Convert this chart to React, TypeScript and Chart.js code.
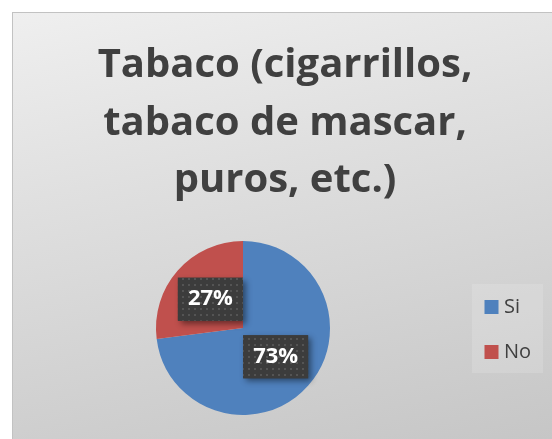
import { useEffect, useRef } from "react";
import { Chart, registerables } from "chart.js";

Chart.register(...registerables);

const titleLines = ["Tabaco (cigarrillos,", "tabaco de mascar,", "puros, etc.)"];
const categories = ["Si", "No"];
const shares = [73, 27];
const sliceColors = ["#4F81BD", "#C0504D"];

const FONT = "'Open Sans', Lato, sans-serif";
const TEXT_COLOR = "#404040";

// small dotted tile used on the percentage boxes
function dotPattern(ctx: CanvasRenderingContext2D) {
  const tile = document.createElement("canvas");
  tile.width = 6;
  tile.height = 6;
  const t = tile.getContext("2d")!;
  t.fillStyle = "#3c3c3c";
  t.fillRect(0, 0, 6, 6);
  t.fillStyle = "#545454";
  t.fillRect(2, 2, 2, 2);
  return ctx.createPattern(tile, "repeat");
}

const titlePlugin = {
  id: "stackedTitle",
  afterDraw(chart: Chart) {
    const { ctx, width } = chart;
    ctx.save();
    ctx.font = `bold 40px ${FONT}`;
    ctx.fillStyle = TEXT_COLOR;
    ctx.textAlign = "center";
    ctx.textBaseline = "alphabetic";
    titleLines.forEach((line, i) => {
      ctx.fillText(line, width / 2 + 3, 65 + i * 57.5);
    });
    ctx.restore();
  },
};

const percentLabels = {
  id: "percentLabels",
  afterDatasetsDraw(chart: Chart) {
    const { ctx } = chart;
    const meta = chart.getDatasetMeta(0);
    const values = chart.data.datasets[0].data as number[];
    const total = values.reduce((a, b) => a + b, 0);
    const pattern = dotPattern(ctx);
    ctx.save();
    ctx.font = `bold 22px ${FONT}`;
    meta.data.forEach((arc: any, i) => {
      const { x, y } = arc.tooltipPosition(false);
      const text = `${Math.round((values[i] / total) * 100)}%`;
      const w = ctx.measureText(text).width + 20;
      const h = 43;
      ctx.save();
      ctx.shadowColor = "rgba(0,0,0,0.45)";
      ctx.shadowBlur = 6;
      ctx.shadowOffsetX = 3;
      ctx.shadowOffsetY = 3;
      ctx.fillStyle = "#3c3c3c";
      ctx.fillRect(x - w / 2, y - h / 2, w, h);
      ctx.restore();
      if (pattern) {
        ctx.fillStyle = pattern;
        ctx.fillRect(x - w / 2, y - h / 2, w, h);
      }
      ctx.fillStyle = "#ffffff";
      ctx.textAlign = "center";
      ctx.textBaseline = "middle";
      ctx.fillText(text, x, y);
    });
    ctx.restore();
  },
};

const sideLegend = {
  id: "sideLegend",
  afterDraw(chart: Chart) {
    const { ctx } = chart;
    const labels = chart.data.labels as string[];
    const colors = chart.data.datasets[0].backgroundColor as string[];
    const boxX = 460;
    const boxY = 272;
    ctx.save();
    ctx.fillStyle = "rgba(255,255,255,0.15)";
    ctx.fillRect(boxX, boxY, 71, 89);
    ctx.font = `20px ${FONT}`;
    ctx.textBaseline = "middle";
    labels.forEach((label, i) => {
      const cy = 295 + i * 45;
      ctx.fillStyle = colors[i];
      ctx.fillRect(boxX + 12.5, cy - 7, 14, 14);
      ctx.fillStyle = TEXT_COLOR;
      ctx.fillText(label, boxX + 32, cy);
    });
    ctx.restore();
  },
};

export default function App() {
  const canvasRef = useRef<HTMLCanvasElement>(null);
  const chartRef = useRef<Chart | null>(null);

  useEffect(() => {
    if (!canvasRef.current) return;
    if (chartRef.current) chartRef.current.destroy();

    chartRef.current = new Chart(canvasRef.current, {
      type: "pie",
      data: {
        labels: categories,
        datasets: [
          {
            data: shares,
            backgroundColor: sliceColors,
            borderWidth: 0,
          },
        ],
      },
      options: {
        responsive: true,
        maintainAspectRatio: false,
        animation: false,
        layout: {
          padding: { left: 144, right: 222, top: 229, bottom: 24 },
        },
        plugins: {
          legend: { display: false },
          title: { display: false },
          tooltip: { enabled: false },
        },
      },
      plugins: [percentLabels, titlePlugin, sideLegend],
    });

    return () => {
      chartRef.current?.destroy();
      chartRef.current = null;
    };
  }, []);

  return (
    <div
      style={{
        position: "absolute",
        left: 12,
        top: 12,
        width: 540,
        height: 427,
        background: "linear-gradient(168deg, #efefef 0%, #e0e0e0 35%, #c6c6c6 100%)",
        boxShadow: "inset 1px 1px 0 #c2c2c2",
      }}
    >
      <canvas ref={canvasRef}></canvas>
    </div>
  );
}
